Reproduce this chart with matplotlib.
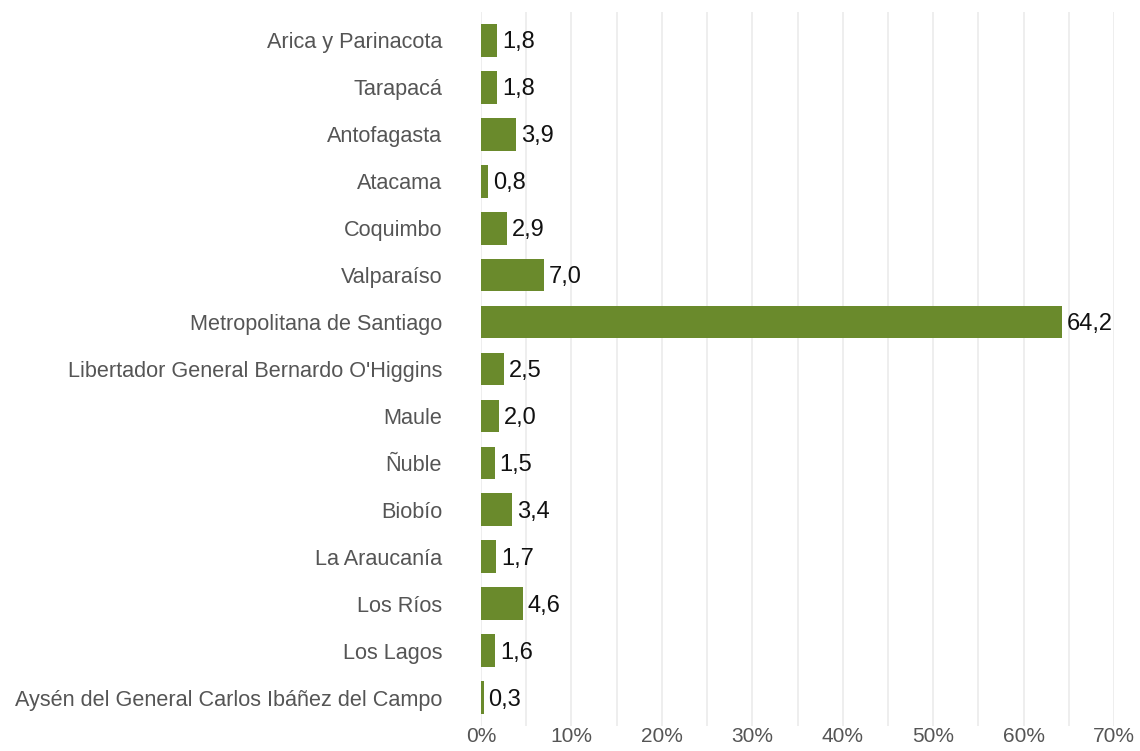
import matplotlib
matplotlib.use("Agg")
import matplotlib.pyplot as plt
from matplotlib.ticker import MultipleLocator, FuncFormatter
from matplotlib.transforms import offset_copy

plt.rcParams['font.family'] = ['Liberation Sans', 'DejaVu Sans']

regions = ["Arica y Parinacota", "Tarapacá", "Antofagasta", "Atacama", "Coquimbo",
           "Valparaíso", "Metropolitana de Santiago", "Libertador General Bernardo O'Higgins",
           "Maule", "Ñuble", "Biobío", "La Araucanía", "Los Ríos", "Los Lagos",
           "Aysén del General Carlos Ibáñez del Campo"]
values = [1.8, 1.8, 3.9, 0.8, 2.9, 7.0, 64.2, 2.5, 2.0, 1.5, 3.4, 1.7, 4.6, 1.6, 0.3]

fig = plt.figure(figsize=(11.4, 7.51), dpi=100)
ax = fig.add_axes([481/1140, 1-726/751, (1114-481)/1140, (726-12)/751])

y = list(range(len(regions)))
ax.barh(y, values, height=0.70, color='#6A8A2C', zorder=2)
trans = offset_copy(ax.transData, fig=fig, x=3.5, y=-1.5, units='points')
for yi, v in zip(y, values):
    ax.text(v, yi, f"{v:.1f}".replace('.', ','), va='center', ha='left',
            fontsize=17, color='#111111', zorder=3, transform=trans)

ax.set_xlim(0, 70)
ax.set_ylim(len(regions) - 0.4, -0.6)
ax.set_yticks(y)
ax.set_yticklabels(regions, fontsize=15.6, color='#555555')
ax.xaxis.set_major_locator(MultipleLocator(10))
ax.xaxis.set_minor_locator(MultipleLocator(5))
ax.xaxis.set_major_formatter(FuncFormatter(lambda x, p: f"{int(round(x))}%"))
ax.tick_params(axis='x', labelsize=15, colors='#555555', length=0, which='both', pad=1)
ax.tick_params(axis='y', length=0, pad=28)
ax.grid(axis='x', which='both', color='#EBEBEB', linewidth=1.2, zorder=0)
ax.grid(axis='y', visible=False)
for s in ax.spines.values():
    s.set_visible(False)

fig.savefig("out.png", dpi=100)
